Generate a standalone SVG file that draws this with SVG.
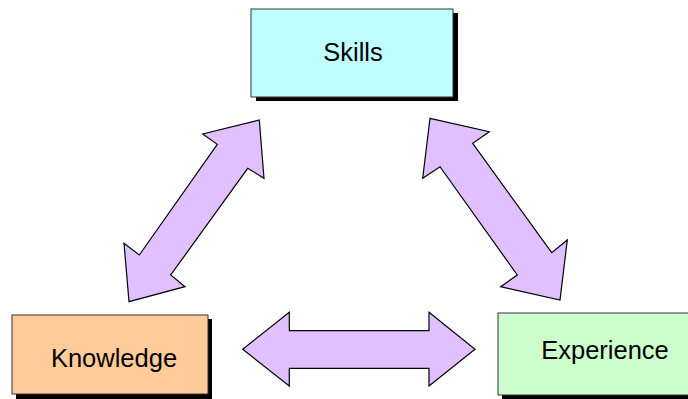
<svg xmlns="http://www.w3.org/2000/svg" width="688" height="399" viewBox="0 0 688 399">
  <style>
    .shadow { fill: #000000; }
    .box { stroke: #333333; stroke-width: 1; }
    .label { font-family: "Liberation Sans", Arial, sans-serif; font-size: 25.5px; fill: #000000; text-anchor: middle; }
    .arrow { fill: #E0C0FF; stroke: #000000; stroke-width: 1.2; stroke-linejoin: miter; }
  </style>
  <rect width="688" height="399" fill="#ffffff"/>

  <g id="connectors">
    <!-- Skills <-> Knowledge -->
    <polygon class="arrow" points="259.3,120 264,178.3 247.7,168.3 170.7,275 185,286.7 129,301.7 124,243.3 139.3,255 217.3,144.3 202.7,134"/>
    <!-- Skills <-> Experience -->
    <polygon class="arrow" points="430,118.3 489.3,131.7 472.7,143.3 551.7,252.7 567.3,240 560,300 500.7,286.7 517.3,275 440,166.7 422.7,178.3"/>
    <!-- Knowledge <-> Experience -->
    <polygon class="arrow" points="242.7,349.3 289.3,312.3 289.3,330.7 429,330.7 429,312.3 475,349.3 429,386 429,368.3 289.3,368.3 289.3,386"/>
  </g>

  <g id="skills">
    <rect class="shadow" x="256" y="13" width="202" height="88"/>
    <rect class="box" x="251" y="9" width="202" height="88" fill="#C0FFFF"/>
    <text class="label" x="353" y="61">Skills</text>
  </g>

  <g id="knowledge">
    <rect class="shadow" x="16" y="319" width="196" height="80"/>
    <rect class="box" x="12" y="315" width="196" height="79" fill="#FFCC99"/>
    <text class="label" x="114" y="367">Knowledge</text>
  </g>

  <g id="experience">
    <rect class="shadow" x="502" y="318" width="200" height="81"/>
    <rect class="box" x="498" y="313" width="200" height="82" fill="#CCFFCC"/>
    <text class="label" x="605" y="359">Experience</text>
  </g>
</svg>
